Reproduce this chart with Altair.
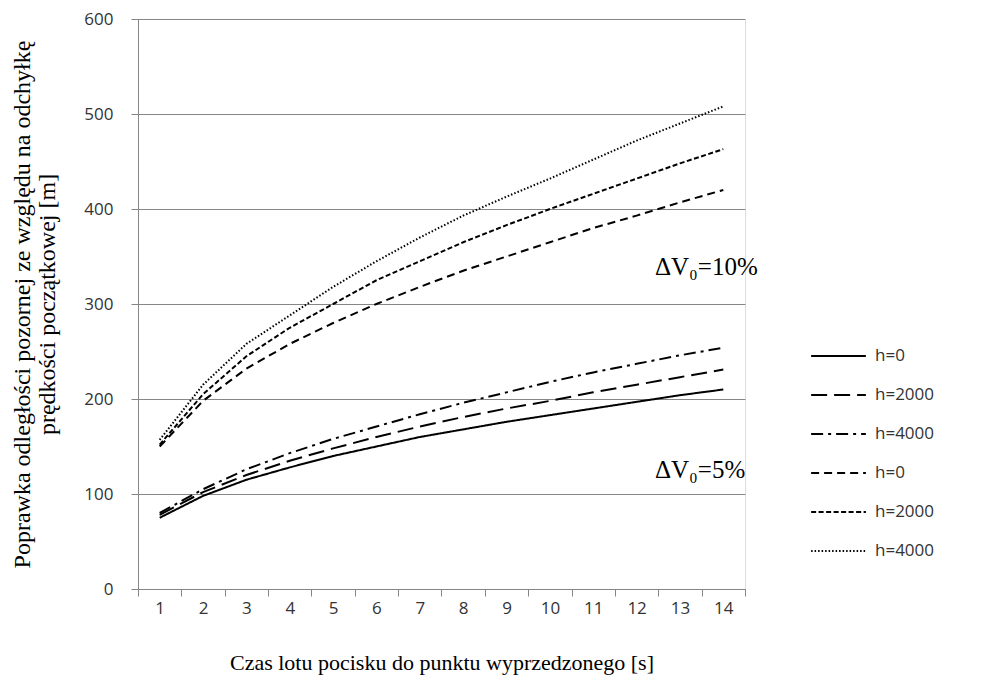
import altair as alt
import pandas as pd

t = list(range(1, 15))
s5_h0 = [75, 98, 115, 128, 140, 150, 160, 168, 176, 183, 190, 197, 204, 210]
s5_h2000 = [78, 102, 120, 135, 148, 160, 171, 181, 190, 198, 207, 215, 223, 231]
s5_h4000 = [80, 105, 126, 143, 158, 171, 184, 196, 207, 218, 228, 237, 246, 254]
s10_h0 = [150, 198, 232, 258, 280, 300, 318, 335, 350, 365, 380, 393, 407, 420]
s10_h2000 = [152, 205, 245, 275, 300, 325, 345, 365, 383, 400, 416, 432, 448, 463]
s10_h4000 = [157, 215, 258, 288, 318, 345, 370, 393, 413, 432, 452, 472, 490, 508]

keys = ["5% h=0", "5% h=2000", "5% h=4000", "10% h=0", "10% h=2000", "10% h=4000"]
series = [s5_h0, s5_h2000, s5_h4000, s10_h0, s10_h2000, s10_h4000]
dashes = [[1, 0], [16, 7], [12, 5, 3, 5], [8, 5], [5, 2.5], [1.5, 2]]
widths = [2, 2, 2, 2.2, 2.2, 1.5]

rows = []
for k, vals in zip(keys, series):
    for x, v in zip(t, vals):
        rows.append({"t": x, "v": v, "k": k})
df = pd.DataFrame(rows)

ann_t = [13, 13]
ann_v = [339, 125]
ann_txt = ["ΔV₀=10%", "ΔV₀=5%"]
ann = pd.DataFrame({"t": ann_t, "v": ann_v, "txt": ann_txt})

xenc = alt.X("t:O", bandPosition=0.5,
             scale=alt.Scale(type="band", paddingInner=0, paddingOuter=0),
             axis=alt.Axis(title="Czas lotu pocisku do punktu wyprzedzonego [s]",
                           labelAngle=0, tickBand="extent", tickSize=7,
                           tickColor="#868686", domainColor="#868686",
                           labelFont="Open Sans", labelFontSize=17, labelColor="#333333",
                           labelPadding=4,
                           titleFont="Liberation Serif", titleFontSize=22,
                           titleFontWeight="normal", titleColor="#000000",
                           titlePadding=36, grid=False))

yenc = alt.Y("v:Q", scale=alt.Scale(domain=[0, 600]),
             axis=alt.Axis(title=["Poprawka odległości pozornej ze względu na odchyłkę",
                                  "prędkości początkowej [m]"],
                           values=[0, 100, 200, 300, 400, 500, 600],
                           tickSize=7, tickColor="#868686", domainColor="#868686",
                           gridColor="#868686", gridWidth=1,
                           labelFont="Open Sans", labelFontSize=17, labelColor="#333333",
                           labelPadding=18,
                           titleFont="Liberation Serif", titleFontSize=24,
                           titleFontWeight="normal", titleColor="#000000",
                           titleLineHeight=25, titlePadding=24))

lines = alt.Chart(df).mark_line().encode(
    x=xenc,
    y=yenc,
    color=alt.Color("k:N", scale=alt.Scale(domain=keys, range=["#000000"] * 6),
                    legend=alt.Legend(title=None, orient="none", legendX=672, legendY=325,
                                      labelExpr="split(datum.label, ' ')[1]",
                                      labelFont="Open Sans", labelFontSize=17,
                                      labelColor="#333333", symbolType="stroke",
                                      symbolSize=3000, clipHeight=24, rowPadding=15,
                                      labelOffset=8, symbolStrokeWidth=2)),
    strokeDash=alt.StrokeDash("k:N", scale=alt.Scale(domain=keys, range=dashes)),
    strokeWidth=alt.StrokeWidth("k:N", scale=alt.Scale(domain=keys, range=widths)),
    order="t:Q",
)

texts = alt.Chart(ann).mark_text(font="Liberation Serif", fontSize=25, color="#000000",
                                 align="left", dx=-25).encode(
    x=alt.X("t:O"), y=alt.Y("v:Q"), text="txt:N")

chart = alt.layer(lines, texts).properties(
    width=607, height=570,
    autosize=alt.AutoSizeParams(type="none"),
    padding={"left": 138, "top": 19, "right": 240, "bottom": 100},
).configure_view(stroke=None).configure(background="white")

chart.save("out.html", embed_options={"renderer": "svg", "actions": False})
